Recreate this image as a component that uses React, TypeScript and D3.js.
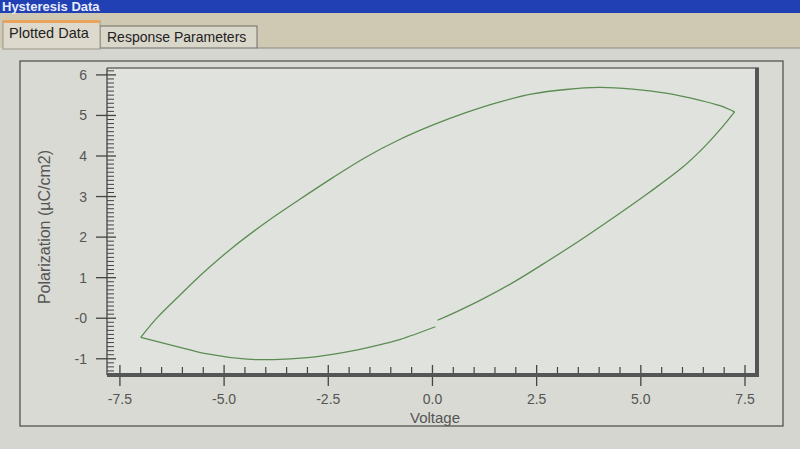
import React from 'react';
import * as d3 from 'd3';

// hysteresis sweep
// branch 1: V rising from 0 to +Vmax (lower right)
const risingV = [0.12, 0.6, 1.2, 2.0, 2.8, 3.6, 4.4, 5.2, 6.0, 6.5, 6.9, 7.25];
const risingP = [-0.05, 0.17, 0.47, 0.92, 1.43, 1.96, 2.52, 3.1, 3.72, 4.2, 4.65, 5.09];
// branch 2: V falling from +Vmax to -Vmax (upper)
const fallingV = [7.25, 6.9, 6.4, 5.6, 4.8, 4.0, 3.2, 2.4, 1.6, 0.8, 0.0, -0.8, -1.6, -2.4, -3.2, -4.0, -4.8, -5.5, -6.1, -6.6, -7.0];
const fallingP = [5.09, 5.24, 5.38, 5.55, 5.65, 5.69, 5.64, 5.53, 5.33, 5.07, 4.76, 4.4, 3.97, 3.46, 2.92, 2.36, 1.74, 1.12, 0.53, 0.02, -0.47];
// branch 3: V rising back from -Vmax to 0 (lower left)
const returnV = [-7.0, -6.2, -5.4, -4.45, -3.8, -3.0, -2.4, -1.8, -1.2, -0.77, 0.07];
const returnP = [-0.47, -0.68, -0.88, -1.01, -1.02, -0.97, -0.89, -0.78, -0.64, -0.52, -0.21];

const yTickValues = [-1, 0, 1, 2, 3, 4, 5, 6];
const yTickLabels = ['-1', '-0', '1', '2', '3', '4', '5', '6'];
const xTickValues = [-7.5, -5.0, -2.5, 0.0, 2.5, 5.0, 7.5];
const xTickLabels = ['-7.5', '-5.0', '-2.5', '0.0', '2.5', '5.0', '7.5'];

const W = 800;
const H = 449;
const plot = { left: 107, right: 755, top: 68, bottom: 375 };

export default function App() {
  const x = d3.scaleLinear().domain([-7.81, 7.74]).range([plot.left, plot.right]);
  const y = d3.scaleLinear().domain([-1.4, 6.17]).range([plot.bottom, plot.top]);

  const line = d3
    .line<[number, number]>()
    .x(d => x(d[0]))
    .y(d => y(d[1]))
    .curve(d3.curveCatmullRom.alpha(0.5));

  const branches = [
    d3.zip(risingV, risingP) as [number, number][],
    d3.zip(fallingV, fallingP) as [number, number][],
    d3.zip(returnV, returnP) as [number, number][],
  ];

  const yMinor = d3.range(-13, 62).map(i => i / 10).filter(v => Math.abs(v - Math.round(v)) > 1e-6);
  const xMinor = d3.range(-15, 16).map(i => i / 2).filter(v => Math.abs(v / 2.5 - Math.round(v / 2.5)) > 1e-6);

  const font = 'Liberation Sans, Arial, sans-serif';

  return (
    <svg width={W} height={H} style={{ position: 'absolute', left: 0, top: 0 }} fontFamily={font}>
      {/* window chrome */}
      <rect x={0} y={0} width={W} height={H} fill="#d5d6cf" />
      <rect x={0} y={0} width={W} height={48} fill="#cfc8b3" />
      <rect x={0} y={0} width={W} height={13} fill="#2140b4" />
      <text x={2} y={11} fill="#e8ecff" fontSize={13} fontWeight="bold">
        Hysteresis Data
      </text>
      <line x1={257} x2={W} y1={48} y2={48} stroke="#8a8a80" />
      {/* tabs */}
      <rect x={100} y={26} width={157} height={22} fill="#d9d6ca" stroke="#6f6f68" />
      <text x={107} y={42} fontSize={14} fill="#222" fontWeight={500}>Response Parameters</text>
      <rect x={3} y={21} width={97} height={28} fill="#ddd9cc" stroke="#9a968a" />
      <rect x={3} y={20} width={97} height={3} fill="#e9a35c" />
      <text x={9} y={38} fontSize={14.5} fill="#222" fontWeight={500}>Plotted Data</text>

      {/* chart frame */}
      <rect x={20} y={61} width={763} height={365} fill="#d9dad4" stroke="#4a4a46" strokeWidth={1.2} />
      <rect x={plot.left} y={plot.top} width={plot.right - plot.left} height={plot.bottom - plot.top} fill="#e0e2dd" />
      <line x1={plot.left} x2={plot.right + 4} y1={plot.top} y2={plot.top} stroke="#333" strokeWidth={1.2} />
      <line x1={plot.right + 2} x2={plot.right + 2} y1={plot.top} y2={plot.bottom + 2} stroke="#555" strokeWidth={4} />

      {/* data */}
      {branches.map((b, i) => (
        <path key={i} d={line(b) || ''} fill="none" stroke="#5b8c52" strokeWidth={1.3} />
      ))}

      {/* y axis */}
      <line x1={plot.left} x2={plot.left} y1={plot.top} y2={plot.bottom} stroke="#444" strokeWidth={1.3} />
      {yMinor.map(v => (
        <line key={v} x1={plot.left} x2={plot.left + 7} y1={y(v)} y2={y(v)} stroke="#444" strokeWidth={1} />
      ))}
      {yTickValues.map((v, i) => (
        <g key={v}>
          <line x1={plot.left - 11} x2={plot.left + 9} y1={y(v)} y2={y(v)} stroke="#444" strokeWidth={1.3} />
          <text x={87} y={y(v) + 5} textAnchor="end" fontSize={14} fill="#555">
            {yTickLabels[i]}
          </text>
        </g>
      ))}
      <text
        transform={`translate(50,${227}) rotate(-90)`}
        textAnchor="middle"
        fontSize={16}
        fill="#555"
      >
        Polarization (µC/cm2)
      </text>

      {/* x axis */}
      {xMinor.map(v => (
        <line key={v} x1={x(v)} x2={x(v)} y1={plot.bottom - 8} y2={plot.bottom} stroke="#444" strokeWidth={1.2} />
      ))}
      {xTickValues.map((v, i) => (
        <g key={v}>
          <line x1={x(v)} x2={x(v)} y1={plot.bottom - 10} y2={plot.bottom + 11} stroke="#444" strokeWidth={1.3} />
          <text x={x(v)} y={404} textAnchor="middle" fontSize={14} fill="#555">
            {xTickLabels[i]}
          </text>
        </g>
      ))}
      <line x1={plot.left} x2={plot.right + 4} y1={plot.bottom} y2={plot.bottom} stroke="#555" strokeWidth={4} />
      <text x={435} y={423} textAnchor="middle" fontSize={15} fill="#555">Voltage</text>
    </svg>
  );
}
